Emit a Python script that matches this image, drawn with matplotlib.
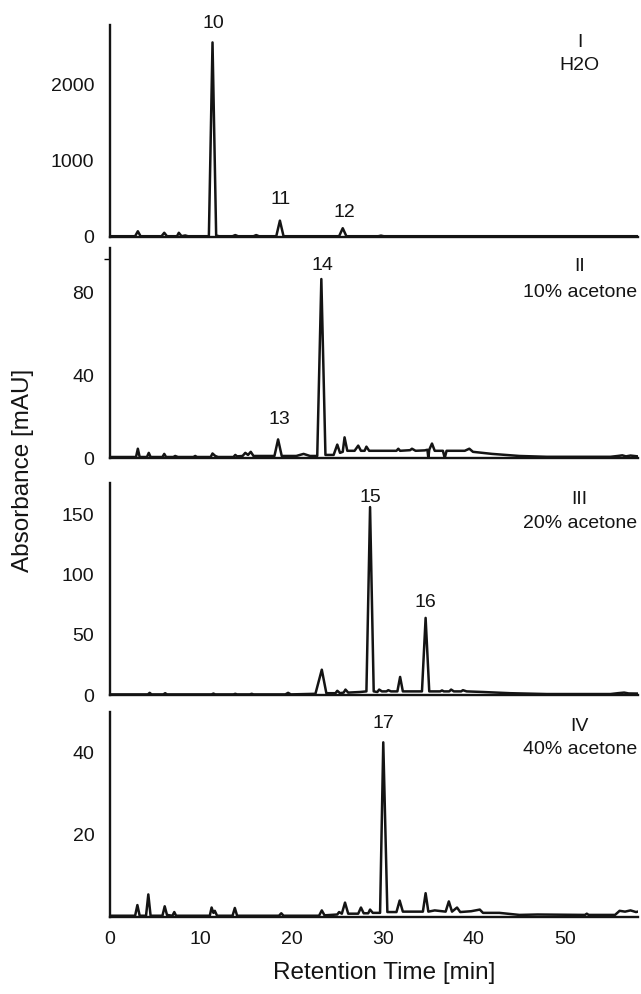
import numpy as np
import matplotlib
matplotlib.use("Agg")
import matplotlib.pyplot as plt

plt.rcParams['font.family'] = ['Liberation Sans', 'DejaVu Sans']

# trace vertices: retention time [min], absorbance [mAU]
h2o_t = [0, 2.8, 3.1, 3.4, 5.7, 6.0, 6.3, 7.4, 7.6, 7.9, 8.3, 8.6, 10.9, 11.3, 11.7, 12.0,
         13.5, 13.8, 14.1, 15.8, 16.1, 16.4, 18.3, 18.7, 19.1, 25.2, 25.6, 26.0, 29.5, 29.8,
         30.1, 58]
h2o_y = [10, 10, 75, 10, 10, 55, 10, 10, 55, 10, 20, 10, 10, 2560, 20, 10,
         10, 25, 10, 10, 25, 10, 10, 215, 10, 10, 115, 10, 10, 18,
         10, 10]

ac10_t = [0, 2.9, 3.1, 3.3, 4.1, 4.3, 4.5, 5.8, 6.0, 6.2, 7.0, 7.2, 7.5, 9.2, 9.4, 9.6,
          11.1, 11.3, 11.6, 11.9, 13.6, 13.8, 14.0, 14.6, 14.9, 15.2, 15.5, 15.8, 18.1, 18.5,
          18.9, 20.5, 21.3, 22.0, 22.8, 23.25, 23.7, 24.6, 25.0, 25.3, 25.6, 25.8, 26.1, 26.9,
          27.3, 27.6, 28.0, 28.2, 28.5, 31.5, 31.7, 31.9, 33.0, 33.2, 33.6, 34.6, 34.9, 35.0,
          35.1, 35.4, 35.7, 36.6, 36.8, 37.0, 39.0, 39.5, 39.9, 42, 45, 48, 55, 55.8, 56.3,
          56.7, 57.2, 58]
ac10_y = [0.5, 0.5, 4.5, 0.5, 0.5, 2.5, 0.5, 0.5, 2, 0.5, 0.5, 1, 0.5, 0.5, 1, 0.5,
          0.5, 2.2, 1, 0.5, 0.5, 1.5, 0.8, 1, 2.5, 1.5, 3, 1, 1, 9,
          1, 1, 2, 1, 1, 86.5, 1.5, 1.5, 6.5, 2.5, 3, 10, 3.5, 3.5,
          6, 3.5, 3.5, 5.5, 3.5, 3.5, 4.5, 3.5, 3.8, 4.5, 3.5, 3.7, 4, 0,
          4, 7, 3.5, 3.5, 0, 3.5, 3.5, 4.5, 3, 2, 1, 0.6, 0.6, 1, 1.3,
          0.8, 1.2, 0.8]

ac20_t = [0, 4.2, 4.4, 4.6, 5.9, 6.1, 6.3, 11.2, 11.4, 11.6, 13.6, 13.8, 14.0, 15.4, 15.6,
          15.8, 19.3, 19.6, 19.9, 22.6, 23.3, 23.8, 24.8, 25.0, 25.3, 25.7, 25.9, 26.2, 27.5,
          28.2, 28.6, 29.0, 29.4, 29.6, 29.9, 30.4, 30.6, 30.9, 31.6, 31.9, 32.2, 34.3, 34.7,
          35.1, 36.3, 36.5, 36.7, 37.3, 37.5, 37.8, 38.6, 38.8, 39.2, 41, 44, 48, 55, 55.8,
          56.5, 57.0, 58]
ac20_y = [0.5, 0.5, 1.8, 0.5, 0.5, 1.5, 0.5, 0.5, 1.2, 0.5, 0.5, 1, 0.5, 0.5, 1,
          0.5, 0.5, 1.8, 0.5, 1, 21, 1.5, 1.5, 3.5, 1.5, 2, 4.5, 2, 2.5,
          3, 156, 3, 2.5, 4.5, 3, 3, 4, 3, 3, 15, 3, 3, 64,
          3, 3, 3.8, 3, 3, 4.5, 3, 3, 4, 3, 2.5, 1.5, 0.8, 0.8, 1.5,
          2, 1.3, 1.2]

ac40_t = [0, 2.8, 3.05, 3.3, 4.0, 4.25, 4.5, 5.8, 6.05, 6.3, 6.9, 7.1, 7.3, 11.0, 11.2,
          11.4, 11.55, 11.8, 13.5, 13.75, 14.0, 18.6, 18.85, 19.1, 23.0, 23.3, 23.6, 25.0,
          25.2, 25.5, 25.85, 26.2, 27.3, 27.6, 27.9, 28.4, 28.6, 28.9, 29.7, 30.05, 30.5,
          31.5, 31.85, 32.2, 32.7, 33.2, 34.4, 34.7, 35.0, 35.7, 36.9, 37.25, 37.6, 38.15,
          38.5, 39.7, 40.65, 41.0, 42.8, 45, 47, 52.2, 52.4, 52.6, 55.5, 56.0, 56.6, 57.2,
          57.8, 58]
ac40_y = [0.3, 0.3, 2.9, 0.3, 0.3, 5.5, 0.3, 0.3, 2.6, 0.5, 0.3, 1.2, 0.3, 0.3, 2.3,
          1, 1.5, 0.3, 0.3, 2.2, 0.3, 0.3, 0.9, 0.3, 0.3, 1.6, 0.4, 0.6,
          1.2, 0.8, 3.5, 0.8, 0.8, 2.3, 0.9, 0.9, 1.8, 1, 1, 42.6, 1.2,
          1.2, 4, 1.3, 1.3, 1.3, 1.3, 5.8, 1.3, 1.6, 1.3, 3.8, 1.3, 2.3,
          1.2, 1.4, 1.8, 1.0, 1.0, 0.5, 0.6, 0.5, 0.8, 0.5, 0.5, 1.5, 1.3, 1.6,
          1.2, 1.3]

panel_names = ["I", "II", "III", "IV"]
solvents = ["H2O", "10% acetone", "20% acetone", "40% acetone"]
ylims = [(0, 2790), (0, 101.5), (0, 176), (0, 50)]
yticks = [[0, 1000, 2000], [0, 40, 80], [0, 50, 100, 150], [20, 40]]
xticks = [0, 10, 20, 30, 40, 50]

# peak numbers: (label, time, height of label centre)
peak_labels = [
    [("10", 11.4, 2812), ("11", 18.8, 487), ("12", 25.8, 316)],
    [("14", 23.4, 93), ("13", 18.6, 18.4)],
    [("15", 28.6, 164), ("16", 34.7, 77)],
    [("17", 30.1, 47.3)],
]
traces = [(h2o_t, h2o_y), (ac10_t, ac10_y), (ac20_t, ac20_y), (ac40_t, ac40_y)]

# axes rectangles in figure fraction
rects = [(0.171, 0.7616, 0.824, 0.2133),
         (0.171, 0.5392, 0.824, 0.2113),
         (0.171, 0.3008, 0.824, 0.2133),
         (0.171, 0.0775, 0.824, 0.2062)]
label_y = [(0.915, 0.81), (0.91, 0.79), (0.92, 0.81), (0.927, 0.815)]

fs = 14
ink = "#141414"

fig = plt.figure(figsize=(6.41, 9.94), dpi=100)

for i in range(4):
    ax = fig.add_axes(rects[i])
    t, y = traces[i]
    ax.plot(t, y, color=ink, lw=1.8, solid_joinstyle="round")
    ax.set_xlim(0, 58)
    ax.set_ylim(*ylims[i])
    for s in ["top", "right"]:
        ax.spines[s].set_visible(False)
    for s in ["left", "bottom"]:
        ax.spines[s].set_linewidth(1.7)
        ax.spines[s].set_color(ink)
    ax.set_yticks(yticks[i])
    ax.tick_params(axis="y", length=0, pad=11, labelsize=fs, colors=ink)
    ax.set_xticks(xticks)
    if i < 3:
        ax.tick_params(axis="x", length=0, labelbottom=False)
    else:
        ax.tick_params(axis="x", length=0, pad=10, labelsize=fs, colors=ink)
        ax.set_xlabel("Retention Time [min]", fontsize=17.5, color=ink)
        ax.xaxis.set_label_coords(0.519, -0.22)
    if i == 1:
        ax.set_yticks([96], minor=True)
        ax.tick_params(axis="y", which="minor", length=4, width=1)
    for lab, px, py in peak_labels[i]:
        ax.text(px, py, lab, ha="center", va="center", fontsize=fs, clip_on=False,
                color=ink)
    ax.text(0.89, label_y[i][0], panel_names[i], transform=ax.transAxes, ha="center",
            va="center", fontsize=fs, color=ink)
    ax.text(0.89, label_y[i][1], solvents[i], transform=ax.transAxes, ha="center",
            va="center", fontsize=fs, color=ink)

fig.text(0.036, 0.527, "Absorbance [mAU]", rotation=90, ha="center", va="center",
         fontsize=17.5, color=ink)

fig.savefig("out.png", dpi=100)
